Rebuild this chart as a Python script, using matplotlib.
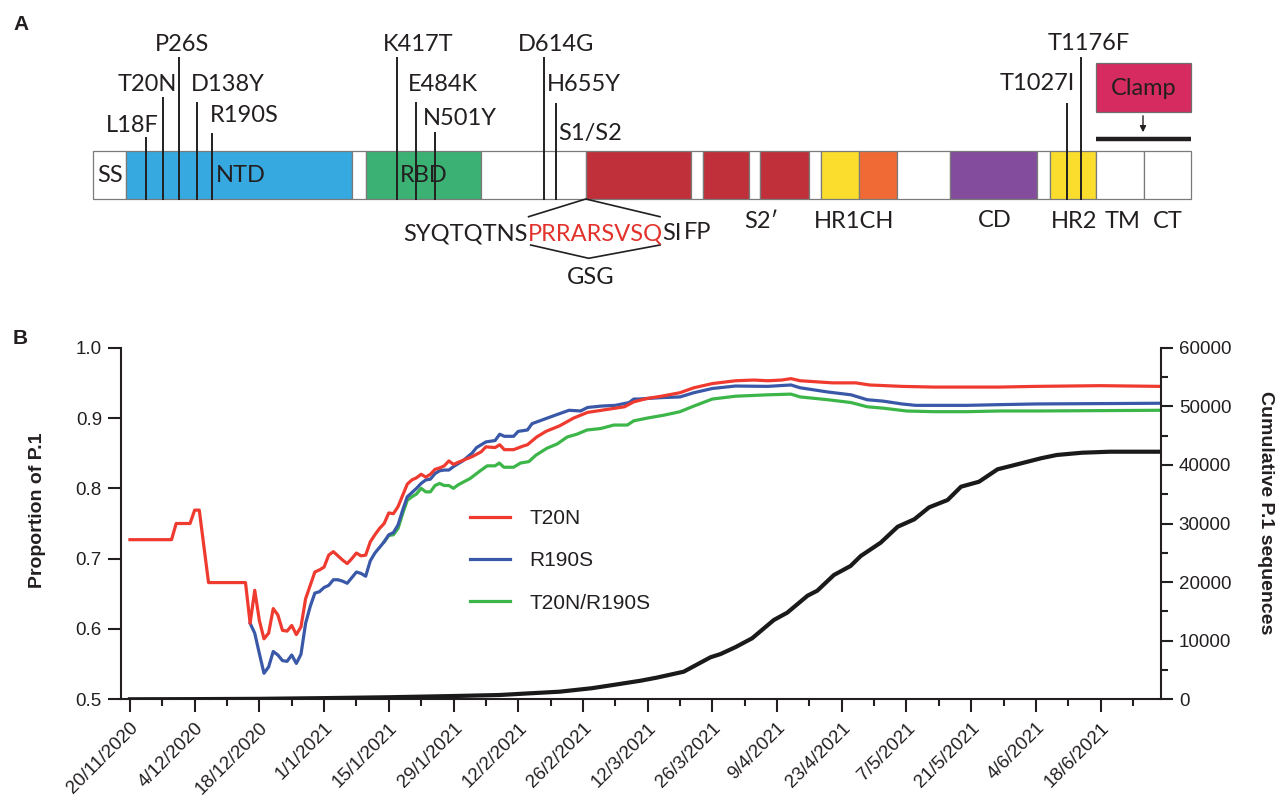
import numpy as np
import pandas as pd
import matplotlib
matplotlib.use("Agg")
import matplotlib.pyplot as plt
import matplotlib.dates as mdates
from matplotlib.patches import Rectangle
from matplotlib.ticker import FixedLocator, FixedFormatter, MultipleLocator, FuncFormatter

# ======================= Panel A data (schematic positions) =======================
domain_bounds = [93.3, 125.6, 352.4, 365.7, 481.0, 585.8, 691.4, 703.0, 749.0, 760.2,
                 808.7, 821.0, 858.9, 897.2, 949.5, 1037.1, 1049.5, 1096.0, 1144.1, 1191.4]
domain_colors = ['white', '#36A9E1', 'white', '#3BB273', 'white', '#C0303A', 'white',
                 '#C0303A', 'white', '#C0303A', 'white', '#FBDD2E', '#F06A35', 'white',
                 '#834C9D', 'white', '#FBDD2E', 'white', 'white']
domain_labels = ['SS', 'NTD', 'RBD', 'FP', 'S2\u2032', 'HR1CH', 'CD', 'HR2', 'TM', 'CT']
domain_label_x = [110, 240.5, 424, 697.5, 761.4, 854, 994.7, 1074, 1122.3, 1167.6]
domain_label_y = [181.7, 181.7, 181.7, 239, 227.7, 227.7, 226.7, 227.7, 227.7, 227.7]

mut_names = ['L18F', 'T20N', 'P26S', 'D138Y', 'R190S', 'K417T', 'E484K', 'N501Y',
             'D614G', 'H655Y', 'T1027I', 'T1176F']
mut_x = [146, 162.5, 179, 196.5, 212, 396.8, 415.8, 435.3, 544, 556.4, 1067.2, 1081.2]
mut_top = [136.7, 96.7, 57.3, 101.7, 132.7, 57.3, 101.7, 131.7, 57.3, 103.3, 103.3, 57.3]
mut_label_x = [132.3, 147.2, 182.4, 228, 244, 417.8, 442.6, 460, 555.6, 584, 1037, 1088.6]
mut_label_y = [131.7, 90.7, 51, 90.7, 121.7, 51, 90.7, 125, 51, 90.7, 90, 50]

seq_black = 'SYQTQTNS'
seq_red = 'PRRARSVSQ'
seq_tail = 'SI'
hex_top_x = [528.6, 585.8, 660.0]
hex_top_y = [216.7, 199.0, 216.7]
hex_bot_x = [530.7, 588.7, 660.0]
hex_bot_y = [245.0, 258.3, 245.0]

# ======================= Panel B data =======================
start_date = pd.Timestamp('2020-11-20')
x_tick_labels = ['20/11/2020', '4/12/2020', '18/12/2020', '1/1/2021', '15/1/2021',
                 '29/1/2021', '12/2/2021', '26/2/2021', '12/3/2021', '26/3/2021',
                 '9/4/2021', '23/4/2021', '7/5/2021', '21/5/2021', '4/6/2021', '18/6/2021']

t20n_days = [0, 9, 10, 13, 14, 15, 17, 25, 26, 27, 28, 29, 30, 31, 32, 33, 34, 35, 36, 37,
             38, 39, 40, 41, 42, 43, 44, 45, 46, 47, 48, 49, 50, 51, 52, 53, 54, 55, 56, 57,
             58, 59, 60, 61, 62, 63, 64, 65, 66, 67, 68, 69, 70, 71, 74, 76, 77, 79, 80, 81,
             83, 85, 86, 88, 90, 93, 96, 99, 102, 105, 107, 109, 112, 115, 119, 122, 126, 131,
             135, 138, 141, 143, 145, 152, 157, 160, 167, 174, 181, 188, 196, 210, 223]
t20n_vals = [.727, .727, .750, .750, .769, .769, .666, .666, .608, .655, .612, .586, .594,
             .629, .620, .598, .597, .605, .592, .603, .643, .662, .681, .684, .688, .705,
             .710, .704, .698, .693, .700, .708, .704, .705, .724, .734, .743, .750, .765,
             .764, .774, .790, .806, .812, .815, .820, .816, .820, .827, .829, .832, .839,
             .834, .837, .845, .852, .859, .858, .862, .855, .855, .860, .862, .873, .881,
             .889, .900, .908, .911, .914, .916, .923, .928, .931, .936, .943, .949, .953,
             .954, .953, .954, .956, .953, .950, .950, .947, .945, .944, .944, .944, .945,
             .946, .945]

r190s_days = [26, 27, 28, 29, 30, 31, 32, 33, 34, 35, 36, 37, 38, 39, 40, 41, 42, 43, 44, 45,
              46, 47, 48, 49, 50, 51, 52, 53, 54, 55, 56, 57, 58, 59, 60, 61, 62, 63, 64, 65,
              66, 67, 68, 69, 70, 71, 72, 74, 75, 77, 79, 80, 81, 83, 84, 86, 87, 89.5, 92,
              95, 97.5, 99, 102, 105, 108, 109, 110, 115, 119, 122, 126, 131, 138, 143, 145,
              151, 156, 159.5, 163, 167, 170, 181, 188, 196, 223]
r190s_vals = [.608, .594, .565, .537, .546, .568, .563, .555, .554, .563, .551, .564, .608,
              .632, .651, .653, .659, .662, .670, .670, .668, .665, .673, .681, .679, .675,
              .697, .708, .716, .724, .734, .737, .748, .769, .788, .794, .800, .807, .812,
              .813, .821, .825, .826, .826, .831, .835, .839, .850, .858, .866, .868, .877,
              .874, .874, .881, .883, .892, .898, .904, .911, .910, .915, .917, .918, .922,
              .927, .927, .929, .930, .936, .942, .9455, .945, .947, .943, .937, .933, .926,
              .924, .920, .918, .918, .919, .920, .921]

both_days = [55, 56, 57, 58, 59, 60, 61, 62, 63, 64, 65, 66, 67, 68, 69, 70, 71, 73.6, 75.8,
             77.3, 79, 79.9, 80.9, 83, 84.5, 86.3, 87.8, 90.2, 92.4, 94.6, 96.7, 98.9, 101.8,
             104.7, 107.6, 109, 112, 115.5, 119, 122, 126, 131, 138, 143, 145, 151, 156,
             159.5, 163, 168, 174, 181, 188, 196, 223]
both_vals = [.724, .733, .734, .743, .764, .783, .788, .792, .800, .795, .795, .804, .807,
             .804, .804, .800, .805, .814, .825, .832, .832, .836, .830, .830, .836, .838,
             .847, .857, .863, .873, .877, .883, .885, .890, .890, .896, .900, .904, .909,
             .917, .927, .931, .933, .934, .930, .926, .922, .916, .914, .910, .909, .909,
             .910, .910, .911]

cum_days = [0, 14, 28, 42, 56, 70, 80, 86, 93, 100, 105, 110.5, 114, 119.8, 125.6, 127.8,
            131, 134.6, 139.3, 142.2, 146.6, 148.7, 152.3, 155.9, 158.1, 162.4, 166.1,
            169.7, 172.9, 176.9, 179.8, 183.7, 187.7, 191.4, 197.1, 200.5, 206, 212, 223]
cum_vals = [0, 30, 80, 200, 350, 560, 734, 1000, 1300, 1900, 2500, 3175, 3700, 4710, 7170,
            7730, 8900, 10410, 13530, 14780, 17680, 18530, 21210, 22750, 24450, 26720,
            29450, 30720, 32760, 34010, 36280, 37130, 39250, 39980, 41130, 41690, 42080,
            42250, 42250]


def to_dates(days):
    return start_date + pd.to_timedelta(np.asarray(days, dtype=float), unit='D')


W, H = 1284, 799
fig = plt.figure(figsize=(W / 100, H / 100), dpi=100)

dark = '#231F20'
fontA = ['Lato', 'DejaVu Sans']
fontB = ['Liberation Sans', 'DejaVu Sans']

# ---------------- overlay axes in pixel units (panel A + panel letters) ----------------
axA = fig.add_axes([0, 0, 1, 1])
axA.set_xlim(0, W)
axA.set_ylim(H, 0)
axA.axis('off')
axA.patch.set_alpha(0)

axA.text(13.5, 29.8, 'A', fontsize=15, fontweight='bold', family=fontB, color=dark,
         va='baseline', ha='left')
axA.text(12.5, 344, 'B', fontsize=15, fontweight='bold', family=fontB, color=dark,
         va='baseline', ha='left')

bar_top, bar_bot = 150.7, 199.0
for i, col in enumerate(domain_colors):
    l, r = domain_bounds[i], domain_bounds[i + 1]
    axA.add_patch(Rectangle((l, bar_top), r - l, bar_bot - bar_top, facecolor=col,
                            edgecolor='#7A7A7A', lw=0.9, zorder=2))

for xm, yt in zip(mut_x, mut_top):
    axA.plot([xm, xm], [yt, bar_bot + 0.8], color=dark, lw=1.4, zorder=4,
             solid_capstyle='butt')

txtA = dict(fontsize=17, family=fontA, color=dark, va='baseline', zorder=5)
for name, lx, ly in zip(mut_names, mut_label_x, mut_label_y):
    axA.text(lx, ly, name, ha='center', **txtA)
axA.text(589.8, 140, 'S1/S2', ha='center', **txtA)

for name, lx, ly in zip(domain_labels, domain_label_x, domain_label_y):
    axA.text(lx, ly, name, ha='center', **txtA)

# cleavage site sequence
axA.text(527.4, 240, seq_black, ha='right', **txtA)
t_red = axA.text(527.4, 240, seq_red, ha='left', fontsize=17, family=fontA,
                 color='#E2322B', va='baseline', zorder=5)
axA.annotate(seq_tail, xy=(1, 0), xycoords=t_red, ha='left', va='bottom',
             fontsize=17, family=fontA, color=dark)
axA.plot(hex_top_x, hex_top_y, color=dark, lw=1.2, zorder=4)
axA.plot(hex_bot_x, hex_bot_y, color=dark, lw=1.2, zorder=4)
axA.text(590.8, 284, 'GSG', ha='center', **txtA)

# clamp
axA.add_patch(Rectangle((1095.5, 63.3), 1191.4 - 1095.5, 111.7 - 63.3,
                        facecolor='#D52B60', edgecolor='#6E6E6E', lw=0.9, zorder=3))
axA.text(1144, 95, 'Clamp', ha='center', **txtA)
axA.annotate('', xy=(1143, 135), xytext=(1143, 113),
             arrowprops=dict(arrowstyle='-|>', color=dark, lw=1.0, mutation_scale=9))
axA.plot([1096, 1191.4], [139.3, 139.3], color=dark, lw=3.2, solid_capstyle='butt')

# ---------------- Panel B ----------------
left_px, right_px, top_px, bot_px = 120.7, 1160.7, 347.7, 699.3
axB = fig.add_axes([left_px / W, 1 - bot_px / H, (right_px - left_px) / W,
                    (bot_px - top_px) / H])
ax2 = axB.twinx()

red_c, blue_c, green_c = '#EE3A2F', '#3A58A8', '#3CB549'
lw = 2.3
lg, = axB.plot(to_dates(both_days), both_vals, color=green_c, lw=lw, label='T20N/R190S')
lb, = axB.plot(to_dates(r190s_days), r190s_vals, color=blue_c, lw=lw, label='R190S')
lr, = axB.plot(to_dates(t20n_days), t20n_vals, color=red_c, lw=lw, label='T20N')
ax2.plot(to_dates(cum_days), cum_vals, color='#1A1A1A', lw=3.0)

axB.set_ylim(0.5, 1.0)
ax2.set_ylim(0, 60000)
axB.set_xlim(start_date - pd.Timedelta(days=2), pd.Timestamp('2021-07-01'))

major_dates = pd.to_datetime(x_tick_labels, format='%d/%m/%Y')
major_num = mdates.date2num(major_dates.to_pydatetime())
axB.xaxis.set_major_locator(FixedLocator(major_num))
axB.xaxis.set_major_formatter(FixedFormatter(x_tick_labels))
axB.xaxis.set_minor_locator(FixedLocator(major_num + 7))

axB.yaxis.set_major_locator(MultipleLocator(0.1))
axB.yaxis.set_major_formatter(FuncFormatter(lambda v, p: f'{v:.1f}'))
ax2.yaxis.set_major_locator(MultipleLocator(10000))
ax2.yaxis.set_minor_locator(MultipleLocator(5000))
ax2.yaxis.set_major_formatter(FuncFormatter(lambda v, p: f'{int(round(v))}'))

for a in (axB, ax2):
    a.spines['top'].set_visible(False)
    for s in ('left', 'right', 'bottom'):
        a.spines[s].set_linewidth(1.5)
        a.spines[s].set_color(dark)
    a.patch.set_alpha(0)
axB.spines['right'].set_visible(False)
ax2.spines['left'].set_visible(False)
ax2.spines['bottom'].set_visible(False)

axB.tick_params(axis='both', which='major', length=9.5, width=1.5, color=dark,
                labelsize=13.5, labelcolor=dark)
axB.tick_params(axis='x', which='minor', length=4.8, width=1.5, color=dark)
axB.tick_params(axis='y', pad=4)
axB.tick_params(axis='x', pad=5)
ax2.tick_params(axis='y', which='major', length=8.5, width=1.5, color=dark,
                labelsize=13.5, labelcolor=dark, pad=4.5)
ax2.tick_params(axis='y', which='minor', length=4.8, width=1.5, color=dark)

for lab in axB.get_xticklabels():
    lab.set_rotation(45)
    lab.set_ha('right')
    lab.set_va('top')
    lab.set_rotation_mode('anchor')
    lab.set_family(fontB)
for lab in axB.get_yticklabels() + ax2.get_yticklabels():
    lab.set_family(fontB)

axB.set_ylabel('Proportion of P.1', fontsize=14, fontweight='bold', family=fontB,
               color=dark)
axB.yaxis.set_label_coords((45.5 - left_px) / (right_px - left_px),
                           (bot_px - 510) / (bot_px - top_px))
ax2.set_ylabel('Cumulative P.1 sequences', fontsize=14, fontweight='bold', family=fontB,
               color=dark, rotation=270, va='bottom')
ax2.yaxis.set_label_coords((1256.7 - left_px) / (right_px - left_px),
                           (bot_px - 512.5) / (bot_px - top_px))

leg = axB.legend(handles=[lr, lb, lg], loc='upper left',
                 bbox_to_anchor=(470 / W, 1 - 509 / H), bbox_transform=fig.transFigure,
                 frameon=False, borderpad=0, borderaxespad=0, handlelength=1.9,
                 handletextpad=0.95, labelspacing=1.12,
                 prop={'family': fontB, 'size': 15})
for t in leg.get_texts():
    t.set_color(dark)

fig.savefig('out.png', dpi=100, facecolor='white')
